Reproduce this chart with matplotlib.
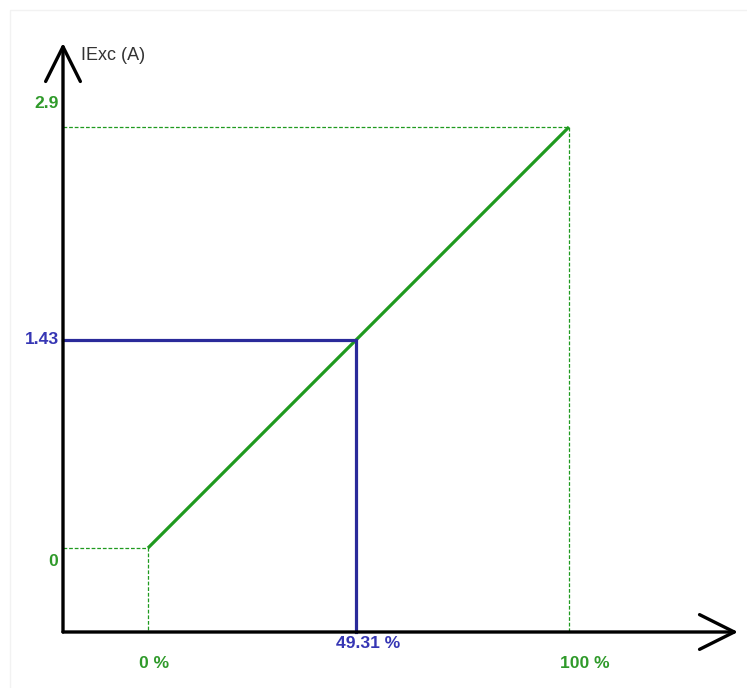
import matplotlib
matplotlib.use("Agg")
import matplotlib.pyplot as plt

# ── data ──────────────────────────────────────────────────────────────────────
pct_range = [0, 100]          # % command
iexc_range = [0, 2.9]         # excitation current (A)
op_pct = 49.31
op_iexc = 1.43

y_label = "IExc (A)"
x_ticks = ["0 %", "49.31 %", "100 %"]
y_ticks = ["0", "1.43", "2.9"]

GREEN = "#1f9a1f"
GREEN_TXT = "#2f9a2a"
BLUE = "#2a2a9a"
BLUE_TXT = "#3636b4"

# pixel layout of the reference (0% / 0 A at px 148,548 ; 100% / 2.9 A at px 569,127)
W, H = 747, 688
x0_px, x1_px = 148, 569
y0_px, y1_px = 548, 127
sx = (x1_px - x0_px) / (pct_range[1] - pct_range[0])
sy = (y0_px - y1_px) / (iexc_range[1] - iexc_range[0])


def px(x, y):
    """pixel (top-left origin) -> data coords"""
    return (x - x0_px) / sx, (y0_px - y) / sy


fig = plt.figure(figsize=(W / 100, H / 100), dpi=100)
ax = fig.add_axes([0, 0, 1, 1])
xl, yt = px(0, 0)
xr, yb = px(W, H)
ax.set_xlim(xl, xr)
ax.set_ylim(yb, yt)
ax.axis("off")

# faint frame of the original picture
fx, fy = px(10, 10)
ax.plot([fx, fx, xr], [yb, fy, fy], color="#f2f2f2", lw=1)

# ── axes with open arrow heads ───────────────────────────────────────────────
ox, oy = px(63, 632)
tipx, _ = px(738, 632)
_, tipy = px(63, 43)
arrow = dict(arrowstyle="->,head_length=2.5,head_width=1.25", color="black",
             lw=2.4, shrinkA=0, shrinkB=0)
ax.annotate("", xy=(ox, tipy), xytext=(ox, oy), arrowprops=arrow)
ax.annotate("", xy=(tipx, oy), xytext=(ox, oy), arrowprops=arrow)

# ── dashed guides ────────────────────────────────────────────────────────────
dash = dict(color=GREEN, lw=0.9, ls=(0, (3, 1.5)))
ax.plot([ox, pct_range[0], pct_range[0]], [iexc_range[0], iexc_range[0], oy], **dash)
ax.plot([ox, pct_range[1], pct_range[1]], [iexc_range[1], iexc_range[1], oy], **dash)

# ── characteristic line ──────────────────────────────────────────────────────
ax.plot(pct_range, iexc_range, color=GREEN, lw=2.3, solid_capstyle="butt")

# ── operating point ──────────────────────────────────────────────────────────
ax.plot([ox, op_pct, op_pct], [op_iexc, op_iexc, oy], color=BLUE, lw=2.3,
        solid_joinstyle="miter")

# ── labels ───────────────────────────────────────────────────────────────────
fnt = dict(family="Liberation Sans", fontsize=12.6, fontweight="bold")
ax.annotate(y_ticks[2], (ox, iexc_range[1]), xytext=(-4, 24), textcoords="offset pixels",
            ha="right", va="center", color=GREEN_TXT, **fnt)
ax.annotate(y_ticks[1], (ox, op_iexc), xytext=(-4, 1), textcoords="offset pixels",
            ha="right", va="center", color=BLUE_TXT, **fnt)
ax.annotate(y_ticks[0], (ox, iexc_range[0]), xytext=(-5, -14), textcoords="offset pixels",
            ha="right", va="center", color=GREEN_TXT, **fnt)

ax.annotate(x_ticks[0], (pct_range[0], oy), xytext=(6, -31), textcoords="offset pixels",
            ha="center", va="center", color=GREEN_TXT, **fnt)
ax.annotate(x_ticks[1], (op_pct, oy), xytext=(13, -11), textcoords="offset pixels",
            ha="center", va="center", color=BLUE_TXT, **fnt)
ax.annotate(x_ticks[2], (pct_range[1], oy), xytext=(16, -31), textcoords="offset pixels",
            ha="center", va="center", color=GREEN_TXT, **fnt)

ax.annotate(y_label, (ox, tipy), xytext=(18, -12), textcoords="offset pixels",
            ha="left", va="center", color="#333333", family="Liberation Sans",
            fontsize=13)

fig.savefig("out.png", dpi=100)
